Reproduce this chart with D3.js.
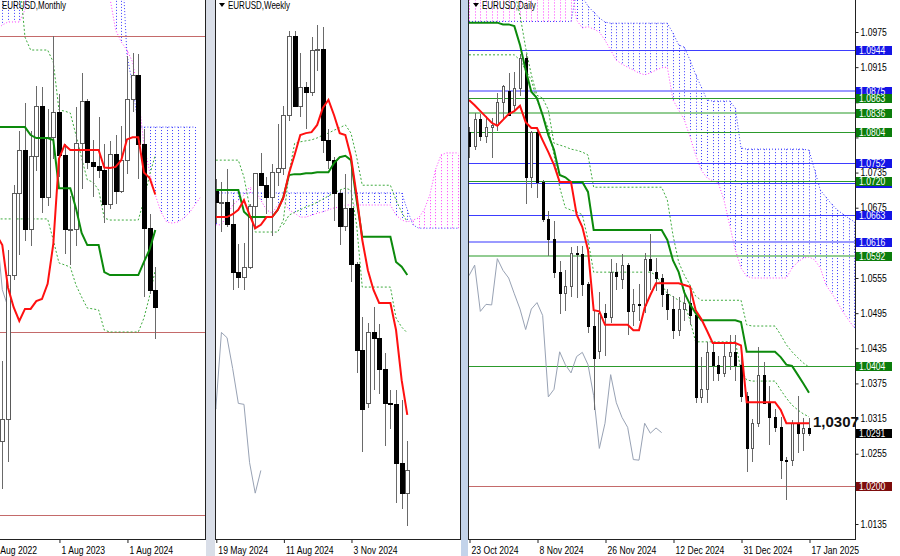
<!DOCTYPE html>
<html><head><meta charset="utf-8">
<script src="https://cdn.jsdelivr.net/npm/d3@7/dist/d3.min.js"></script>
<style>
html,body{margin:0;padding:0;background:#fff;}
svg{display:block;}
text{font-family:"Liberation Sans",Arial,sans-serif;}
</style></head><body>
<svg id="chart" width="900" height="556"></svg>
<script>
// ================= DATA =================
// ---- Monthly (first candle Oct 2022) ----
const monthlyOHLC = [
 [0.9802,1.0094,0.9632,0.9882],[0.9882,1.0497,0.9730,1.0406],[1.0406,1.0736,1.0393,1.0705],
 [1.0705,1.0929,1.0483,1.0863],[1.0863,1.1033,1.0533,1.0576],[1.0576,1.0930,1.0516,1.0839],
 [1.0839,1.1095,1.0788,1.1020],[1.1020,1.1092,1.0635,1.0690],[1.0690,1.1012,1.0663,1.0910],
 [1.0910,1.1276,1.0834,1.0998],[1.0998,1.1065,1.0766,1.0843],[1.0843,1.0882,1.0488,1.0573],
 [1.0573,1.0695,1.0448,1.0576],[1.0576,1.1017,1.0517,1.0886],[1.0886,1.1140,1.0724,1.1039],
 [1.1039,1.1046,1.0795,1.0818],[1.0818,1.0898,1.0695,1.0804],[1.0804,1.0981,1.0762,1.0790],
 [1.0790,1.0885,1.0601,1.0667],[1.0667,1.0895,1.0650,1.0848],[1.0848,1.0916,1.0668,1.0713],
 [1.0713,1.0948,1.0710,1.0826],[1.0826,1.1202,1.0778,1.1047],[1.1047,1.1214,1.1002,1.1135],
 [1.1135,1.1210,1.0761,1.0884],[1.0884,1.0937,1.0332,1.0577],[1.0577,1.0630,1.0343,1.0354],
 [1.0354,1.0437,1.0178,1.0291]];
// indicator arrays start one month before the first candle
const monthlyTenkan = [1.0553,1.0516,1.0362,1.0290,1.0240,1.0284,1.0284,1.0312,1.0320,1.0375,1.0520,1.0830,1.0880,
 1.0862,1.0862,1.0862,1.0862,1.0862,1.0862,1.0798,1.0796,1.0800,1.0825,1.0900,1.0908,1.0908,1.0780,1.0760,1.0700];
const monthlyKijun = [1.0945,1.0945,1.0945,1.0945,1.0945,1.0945,1.0916,1.0905,1.0905,1.0905,1.0898,1.0723,1.0723,1.0723,
 1.0650,1.0560,1.0516,1.0516,1.0516,1.0418,1.0407,1.0407,1.0407,1.0407,1.0407,1.0407,1.0455,1.0500,1.0571];
const monthlyDotUpper = [1.1495,1.1495,1.1495,1.1495,1.1495,1.1272,1.1225,1.1225,1.1225,1.1225,1.1181,1.1007,1.1003,1.0996,
 1.0916,1.0833,1.0753,1.0745,1.0716,1.0614,1.0607,1.0607,1.0607,1.0607,1.0607,1.0607,1.0680,1.0771,1.0843];
const monthlyDotLower = [1.0611,1.0611,1.0611,1.0611,1.0611,1.0611,1.0611,1.0611,1.0611,1.0611,1.0534,1.0451,1.0444,1.0436,
 1.0371,1.0327,1.0287,1.0284,1.0280,1.0207,1.0200,1.0200,1.0200,1.0200,1.0200,1.0200,1.0251,1.0331,1.0425];
const monthlySpanA = [1.16,1.16,1.16,1.16,1.16,1.16,1.16,1.16,1.16,1.16,1.16,1.16,1.16,1.16,1.16,1.16,1.16,1.16,1.16,1.16,1.16,1.16,1.16,
 1.1207,1.1098,1.0945,1.0945,1.0945,1.0945,1.0945,1.0945,1.0945,1.0945,1.0945,1.0945,1.0945];
const monthlySpanB = [1.1298,1.1316,1.1327,1.1327,1.1327,1.1371,1.16,1.16,1.16,1.16,1.16,1.16,1.16,1.16,1.16,1.16,1.16,1.16,1.16,1.16,
 1.1414,1.1298,1.1254,1.1225,1.1181,1.1062,1.0880,1.0782,1.0698,1.0636,1.0600,1.0596,1.0600,1.0614,1.0633,1.0662,1.0691];
const monthlyLevels = [1.1276,1.0200,0.9536];
const monthlyTickMonths = ["2022-08","2023-08","2024-08"];

// ---- Weekly (first candle week of 19 May 2024) ----
const weeklyOHLC = [
 [1.0870,1.0895,1.0805,1.0847],[1.0847,1.0889,1.0788,1.0848],[1.0848,1.0916,1.0797,1.0801],
 [1.0801,1.0852,1.0668,1.0703],[1.0703,1.0761,1.0671,1.0692],[1.0692,1.0762,1.0666,1.0713],
 [1.0713,1.0844,1.0710,1.0840],[1.0840,1.0906,1.0795,1.0907],[1.0907,1.0948,1.0882,1.0882],
 [1.0882,1.0899,1.0825,1.0857],[1.0857,1.0926,1.0778,1.0910],[1.0910,1.1008,1.0882,1.0918],
 [1.0918,1.1047,1.0905,1.1027],[1.1027,1.1201,1.1018,1.1192],[1.1192,1.1202,1.1046,1.1047],
 [1.1047,1.1155,1.1026,1.1085],[1.1085,1.1096,1.1001,1.1075],[1.1075,1.1189,1.1068,1.1163],
 [1.1163,1.1214,1.1120,1.1165],[1.1165,1.1209,1.0951,1.0975],[1.0975,1.0999,1.0918,1.0935],
 [1.0935,1.0941,1.0810,1.0866],[1.0866,1.0872,1.0761,1.0797],[1.0797,1.0905,1.0789,1.0834],
 [1.0834,1.0937,1.0683,1.0718],[1.0718,1.0723,1.0496,1.0541],[1.0541,1.0610,1.0332,1.0418],
 [1.0430,1.0596,1.0423,1.0577],[1.0577,1.0630,1.0460,1.0566],[1.0566,1.0594,1.0452,1.0502],
 [1.0502,1.0535,1.0343,1.0430],[1.0430,1.0458,1.0380,1.0428],[1.0428,1.0457,1.0226,1.0307],
 [1.0307,1.0437,1.0214,1.0244],[1.0244,1.0353,1.0178,1.0291]];
const weeklyTenkan = [1.0816,1.0816,1.0816,1.0822,1.0831,1.0851,1.0820,1.0793,1.0800,1.0816,1.0816,1.0831,1.0856,1.0907,
 1.0945,1.0986,1.0990,1.0992,1.1007,1.1042,1.1059,1.1027,1.0990,1.0986,1.0941,1.0862,1.0769,1.0706,1.0665,1.0638,1.0638,
 1.0638,1.0582,1.0478,1.0406];
const weeklyKijun = [1.0872,1.0872,1.0872,1.0872,1.0872,1.0827,1.0816,1.0816,1.0816,1.0816,1.0816,1.0831,1.0858,1.0903,
 1.0905,1.0905,1.0907,1.0907,1.0909,1.0909,1.0909,1.0928,1.0940,1.0943,1.0934,1.0851,1.0775,1.0775,1.0775,1.0775,1.0775,
 1.0775,1.0723,1.0713,1.0696];
const weeklyDotUpper = [1.0934,1.0934,1.0934,1.0934,1.0934,1.0899,1.0837,1.0785,1.0785,1.0785,1.0785,1.0785,1.0810,1.0907,
 1.0969,1.0972,1.0974,1.0976,1.0980,1.0986,1.0990,1.0996,1.1001,1.1007,1.0990,1.0941,1.0882,1.0882,1.0882,1.0882,1.0882,
 1.0882,1.0851,1.0826,1.0806];
const weeklyDotLower = [null,null,null,null,null,null,null,null,null,null,null,null,1.0800,1.0820,1.0826,1.0831,1.0837,
 1.0841,1.0847,1.0853,1.0860,1.0866,1.0872,1.0876,1.0872,1.0800,1.0671,1.0671,1.0671,1.0671,1.0671,1.0671,1.0607,1.0588,1.0576];
const weeklySpanA = [1.0866,1.0866,1.0866,1.0866,1.0866,1.0866,1.0866,1.0866,1.0866,1.0866,1.0866,1.0866,1.0866,1.0866,
 1.0866,1.0866,1.0866,1.0866,1.0866,1.0866,1.0866,1.0866,1.0866,1.0866,1.0866,1.0866,1.0866,1.0866,1.0866,1.0866,1.0866,
 1.0866,1.0866,1.0866,1.0831,1.0800,1.0793,1.0793,1.0793,1.0793,1.0793,1.0793,1.0793,1.0793];
const weeklySpanB = [1.0800,1.0800,1.0820,1.0841,1.0851,1.0862,1.0878,1.0872,1.0851,1.0831,1.0824,1.0841,1.0851,1.0831,
 1.0824,1.0816,1.0816,1.0820,1.0824,1.0827,1.0831,1.0835,1.0837,1.0841,1.0841,1.0841,1.0841,1.0841,1.0841,1.0841,1.0841,
 1.0841,1.0820,1.0810,1.0806,1.0810,1.0814,1.0831,1.0862,1.0914,1.0945,1.0949,1.0949,1.0949];
const weeklyTickDates = ["2024-05-19","2024-08-11","2024-11-03"];

// ---- Daily (first candle 23 Oct 2024) ----
const dailyDates = ["2024-10-23","2024-10-24","2024-10-25","2024-10-28","2024-10-29","2024-10-30","2024-10-31","2024-11-01",
 "2024-11-04","2024-11-05","2024-11-06","2024-11-07","2024-11-08","2024-11-11","2024-11-12","2024-11-13","2024-11-14",
 "2024-11-15","2024-11-18","2024-11-19","2024-11-20","2024-11-21","2024-11-22","2024-11-25","2024-11-26","2024-11-27",
 "2024-11-28","2024-11-29","2024-12-02","2024-12-03","2024-12-04","2024-12-05","2024-12-06","2024-12-09","2024-12-10",
 "2024-12-11","2024-12-12","2024-12-13","2024-12-16","2024-12-17","2024-12-18","2024-12-19","2024-12-20","2024-12-23",
 "2024-12-24","2024-12-26","2024-12-27","2024-12-30","2024-12-31","2025-01-02","2025-01-03","2025-01-06","2025-01-07",
 "2025-01-08","2025-01-09","2025-01-10","2025-01-13","2025-01-14","2025-01-15","2025-01-16","2025-01-17"];
const dailyOHLC = [
 [1.0805,1.0812,1.0761,1.0780],[1.0780,1.0836,1.0776,1.0827],[1.0827,1.0835,1.0791,1.0797],[1.0797,1.0831,1.0788,1.0813],
 [1.0813,1.0829,1.0761,1.0817],[1.0817,1.0870,1.0807,1.0856],[1.0856,1.0885,1.0827,1.0883],[1.0874,1.0905,1.0834,1.0834],
 [1.0850,1.0906,1.0844,1.0880],[1.0879,1.0937,1.0868,1.0931],[1.0931,1.0937,1.0683,1.0728],[1.0728,1.0806,1.0711,1.0804],
 [1.0804,1.0811,1.0693,1.0719],[1.0719,1.0723,1.0653,1.0655],[1.0655,1.0669,1.0595,1.0622],[1.0622,1.0653,1.0556,1.0565],
 [1.0565,1.0584,1.0496,1.0529],[1.0529,1.0568,1.0500,1.0541],[1.0541,1.0608,1.0524,1.0597],[1.0597,1.0609,1.0522,1.0596],
 [1.0596,1.0610,1.0526,1.0544],[1.0544,1.0548,1.0462,1.0473],[1.0473,1.0498,1.0332,1.0418],[1.0430,1.0531,1.0418,1.0496],
 [1.0496,1.0510,1.0423,1.0488],[1.0488,1.0588,1.0480,1.0566],[1.0566,1.0580,1.0537,1.0559],[1.0553,1.0596,1.0538,1.0577],
 [1.0577,1.0580,1.0460,1.0498],[1.0498,1.0537,1.0474,1.0510],[1.0510,1.0545,1.0483,1.0509],[1.0509,1.0597,1.0497,1.0588],
 [1.0588,1.0630,1.0536,1.0568],[1.0566,1.0590,1.0535,1.0555],[1.0555,1.0562,1.0508,1.0528],[1.0528,1.0536,1.0485,1.0502],
 [1.0502,1.0524,1.0452,1.0467],[1.0467,1.0523,1.0457,1.0502],[1.0502,1.0534,1.0483,1.0513],[1.0513,1.0535,1.0476,1.0491],
 [1.0491,1.0500,1.0343,1.0352],[1.0352,1.0420,1.0344,1.0365],[1.0365,1.0445,1.0343,1.0429],[1.0429,1.0446,1.0380,1.0407],
 [1.0407,1.0422,1.0381,1.0393],[1.0393,1.0445,1.0387,1.0421],[1.0421,1.0458,1.0400,1.0428],[1.0428,1.0457,1.0380,1.0407],
 [1.0407,1.0432,1.0345,1.0354],[1.0354,1.0361,1.0226,1.0264],[1.0264,1.0315,1.0243,1.0307],[1.0307,1.0437,1.0302,1.0390],
 [1.0390,1.0412,1.0341,1.0342],[1.0342,1.0370,1.0271,1.0317],[1.0317,1.0331,1.0293,1.0300],[1.0300,1.0317,1.0214,1.0245],
 [1.0245,1.0250,1.0178,1.0244],[1.0244,1.0312,1.0235,1.0307],[1.0307,1.0353,1.0258,1.0290],[1.0290,1.0316,1.0261,1.0299],
 [1.0299,1.0316,1.0287,1.0291]];
const dailyTenkan = [1.0859,1.0850,1.0840,1.0830,1.0820,1.0815,1.0825,1.0835,1.0840,1.0849,1.0821,1.0811,1.0811,1.0790,
 1.0770,1.0748,1.0719,1.0719,1.0719,1.0663,1.0642,1.0603,1.0500,1.0498,1.0475,1.0475,1.0475,1.0475,1.0475,1.0466,1.0466,
 1.0504,1.0526,1.0546,1.0546,1.0546,1.0546,1.0546,1.0543,1.0540,1.0500,1.0485,1.0465,1.0444,1.0444,1.0444,1.0444,1.0444,
 1.0440,1.0343,1.0343,1.0343,1.0343,1.0343,1.0343,1.0330,1.0307,1.0307,1.0307,1.0307,1.0307];
const dailyKijun = [1.0991,1.0991,1.0991,1.0991,1.0991,1.0991,1.0988,1.0988,1.0985,1.0953,1.0910,1.0873,1.0862,1.0833,
 1.0799,1.0774,1.0731,1.0727,1.0719,1.0719,1.0719,1.0702,1.0637,1.0637,1.0637,1.0637,1.0637,1.0637,1.0637,1.0637,1.0637,
 1.0637,1.0637,1.0637,1.0637,1.0620,1.0585,1.0565,1.0530,1.0510,1.0495,1.0483,1.0483,1.0483,1.0483,1.0483,1.0483,1.0483,
 1.0480,1.0429,1.0429,1.0429,1.0429,1.0429,1.0429,1.0420,1.0407,1.0405,1.0390,1.0375,1.0359];
const dailyDotUpper = [1.1045,1.1045,1.1045,1.1045,1.1045,1.1045,1.1045,1.1045,1.1045,1.1004,1.0948,1.0902,1.0867,1.0862,
 1.0842,1.0785,1.0782,1.0779,1.0775,1.0773,1.0770,1.0765,1.0710,1.0710,1.0710,1.0710,1.0710,1.0710,1.0710,1.0710,1.0710,
 1.0710,1.0710,1.0710,1.0710,1.0688,1.0628,1.0582,1.0560,1.0543,1.0524,1.0517,1.0517,1.0517,1.0517,1.0517,1.0517,1.0517,
 1.0517,1.0475,1.0473,1.0473,1.0473,1.0473,1.0473,1.0458,1.0441,1.0429,1.0419,1.0410,1.0403];
const dailyDotLower = [1.0936,1.0936,1.0936,1.0936,1.0936,1.0936,1.0936,1.0936,1.0936,1.0927,1.0910,1.0893,1.0859,1.0833,
 1.0811,1.0765,1.0710,1.0675,1.0671,1.0668,1.0663,1.0620,1.0565,1.0565,1.0565,1.0565,1.0565,1.0565,1.0565,1.0565,1.0565,
 1.0565,1.0565,1.0560,1.0543,1.0529,1.0523,1.0517,1.0512,1.0483,1.0446,1.0446,1.0446,1.0446,1.0446,1.0446,1.0446,1.0446,
 1.0398,1.0381,1.0379,1.0379,1.0379,1.0379,1.0379,1.0364,1.0350,1.0338,1.0330,1.0323,1.0318];
const dailySpanA = [1.0993,1.0993,1.0993,1.0993,1.0993,1.0993,1.0993,1.0993,1.0993,1.0993,1.0993,1.0993,1.0993,1.0993,
 1.0993,1.0993,1.0993,1.0993,1.0993,1.1045,1.1035,1.1019,1.1009,1.0999,1.0992,1.0990,1.0990,1.0990,1.0990,1.0990,1.0990,
 1.0990,1.0990,1.0990,1.0990,1.0990,1.0973,1.0953,1.0949,1.0927,1.0902,1.0881,1.0859,1.0857,1.0857,1.0857,1.0857,1.0845,
 1.0777,1.0775,1.0775,1.0775,1.0775,1.0775,1.0775,1.0775,1.0775,1.0775,1.0775,1.0775,1.0773,1.0739,1.0705,1.0693,1.0681,
 1.0671,1.0664,1.0657,1.0651];
const dailySpanB = [1.1060,1.1060,1.1060,1.1060,1.1060,1.1060,1.1060,1.1060,1.1060,1.1060,1.1060,1.1060,1.1060,1.1060,
 1.1060,1.1060,1.1060,1.1060,1.1060,1.0995,1.0982,1.0984,1.0980,1.0975,1.0961,1.0944,1.0927,1.0920,1.0915,1.0910,1.0905,
 1.0902,1.0905,1.0910,1.0914,1.0915,1.0859,1.0842,1.0825,1.0796,1.0765,1.0739,1.0726,1.0721,1.0717,1.0688,1.0645,1.0603,
 1.0572,1.0558,1.0555,1.0555,1.0555,1.0555,1.0555,1.0555,1.0555,1.0572,1.0582,1.0589,1.0591,1.0586,1.0572,1.0543,1.0529,
 1.0514,1.0497,1.0483,1.0470];
const dailyLevels     = [1.0944,1.0875,1.0863,1.0836,1.0804,1.0752,1.0717,1.0720,1.0663,1.0616,1.0592,1.0404,1.0200];
const dailyLevelKinds = ["blue","lightblue","green","lightgreen","green","blue","blue","green","blue","lightblue","lightgreen","green","red"];
const dailyPriceTicks = [1.0975,1.0915,1.0855,1.0795,1.0735,1.0675,1.0615,1.0555,1.0495,1.0435,1.0375,1.0315,1.0255,1.0195,1.0135];
const dailyTickDates  = ["2024-10-23","2024-11-08","2024-11-26","2024-12-12","2024-12-31","2025-01-17"];
const lastPrice = 1.0291;
const tenkanNote = "1,0307";

// ================= DRAWING =================
const BLUE="#3c3cff", MAG="#ff3cff";
const LEVEL_STYLE={
  blue:{c:"#3d3dff",w:1,box:"#1414e6"},
  lightblue:{c:"#9a9aff",w:2,box:"#1414e6"},
  green:{c:"#2c9a2c",w:1,box:"#0b7d0b"},
  lightgreen:{c:"#92cc92",w:2,box:"#0b7d0b"},
  red:{c:"#c46a6a",w:1,box:"#7d0c0c"}
};
const FONT="Liberation Sans, Arial, sans-serif";
const AXIS_Y=539;
const svg=d3.select("#chart");
const defs=svg.append("defs");
const fmtDate=d3.utcFormat("%-d %b %Y");
const parse=d3.utcParse("%Y-%m-%d");
// narrow the sans text to the width of the terminal's UI font
function squeeze(sel,k){
  sel.each(function(){
    const L=this.getComputedTextLength();
    if(L>0){this.setAttribute("textLength",(L*k).toFixed(1));this.setAttribute("lengthAdjust","spacingAndGlyphs");}
  });
}

svg.append("rect").attr("width",900).attr("height",556).attr("fill","#fff");
// separators between windows
svg.append("rect").attr("x",206).attr("y",0).attr("width",9).attr("height",556).attr("fill","#d9dee8");
svg.append("rect").attr("x",461).attr("y",0).attr("width",7).attr("height",556).attr("fill","#c3d3ea");

function drawPanel(P){
  const x=d3.scaleLinear().domain(P.xDomain).range(P.xRange);
  const y=d3.scaleLinear().domain(P.yDomain).range(P.yRange);
  const cid="clip-"+P.id;
  defs.append("clipPath").attr("id",cid).append("rect")
    .attr("x",P.left).attr("y",0).attr("width",P.right-P.left).attr("height",AXIS_Y);
  const g=svg.append("g").attr("clip-path",`url(#${cid})`);
  const sx=i=>Math.round(x(i))+0.5;
  const mk=start=>d3.line().defined(d=>d!=null).x((d,j)=>x(j+start)).y(d=>y(d));

  // cloud hatch (one dotted vertical per bar)
  P.spanA.forEach((a,j)=>{
    const b=P.spanB[j], i=j+P.spanStart;
    g.append("line").attr("x1",sx(i)).attr("x2",sx(i)).attr("y1",y(a)).attr("y2",y(b))
      .attr("stroke",a>=b?BLUE:MAG).attr("stroke-width",1).attr("stroke-dasharray","1,2");
  });
  g.append("path").attr("d",mk(P.spanStart)(P.spanA)).attr("fill","none").attr("stroke",BLUE).attr("stroke-dasharray","1,2");
  g.append("path").attr("d",mk(P.spanStart)(P.spanB)).attr("fill","none").attr("stroke",MAG).attr("stroke-dasharray","1,2");

  // horizontal levels
  (P.levels||[]).forEach((v,k)=>{
    const st=LEVEL_STYLE[P.levelKinds[k]];
    const yy=Math.round(y(v))+(st.w%2?0.5:0);
    g.append("line").attr("x1",P.left).attr("x2",P.right).attr("y1",yy).attr("y2",yy)
      .attr("stroke",st.c).attr("stroke-width",st.w).attr("shape-rendering","crispEdges");
  });

  // chikou span: closes shifted back 26 bars
  const ch=P.ohlc.map((d,i)=>[i-26,d[3]]);
  g.append("path").attr("d",d3.line().x(d=>x(d[0])).y(d=>y(d[1]))(ch))
    .attr("fill","none").attr("stroke","#98a2b4").attr("stroke-width",1);

  // dotted green lines
  [P.dotUpper,P.dotLower].forEach(arr=>{
    g.append("path").attr("d",mk(P.lineStart)(arr)).attr("fill","none")
      .attr("stroke","#3daa3d").attr("stroke-width",1).attr("stroke-dasharray","2,2");
  });

  // candles
  const bw=P.bodyW, h=(bw-1)/2;
  P.ohlc.forEach((d,i)=>{
    const [o,hi,lo,c]=d; const cx=Math.round(x(i));
    g.append("line").attr("x1",cx+0.5).attr("x2",cx+0.5).attr("y1",Math.round(y(hi))).attr("y2",Math.round(y(lo))+1)
      .attr("stroke","#6a6a6a");
    const t=Math.round(y(Math.max(o,c))), b=Math.round(y(Math.min(o,c)));
    if(c>=o){
      g.append("rect").attr("x",cx-h+0.5).attr("y",t+0.5).attr("width",bw-1).attr("height",Math.max(1,b-t))
        .attr("fill","#fff").attr("stroke","#5a5a5a");
    } else {
      g.append("rect").attr("x",cx-h).attr("y",t).attr("width",bw).attr("height",Math.max(2,b-t+1)).attr("fill","#000");
    }
  });

  // Kijun & Tenkan
  g.append("path").attr("d",mk(P.lineStart)(P.kijun)).attr("fill","none").attr("stroke","#0c8a0c").attr("stroke-width",2);
  g.append("path").attr("d",mk(P.lineStart)(P.tenkan)).attr("fill","none").attr("stroke","#ff1010").attr("stroke-width",2);

  // frame
  svg.append("line").attr("x1",P.left).attr("x2",P.right).attr("y1",AXIS_Y+0.5).attr("y2",AXIS_Y+0.5).attr("stroke","#222");
  if(P.leftBorder) svg.append("line").attr("x1",P.left+0.5).attr("x2",P.left+0.5).attr("y1",0).attr("y2",AXIS_Y).attr("stroke","#222");
  svg.append("line").attr("x1",P.right+0.5).attr("x2",P.right+0.5).attr("y1",0).attr("y2",AXIS_Y+1).attr("stroke","#222");

  // time axis
  const ax=d3.axisBottom(x).tickValues(P.tickIdx).tickFormat((d,k)=>P.tickLabels[k]).tickSize(4).tickSizeOuter(0);
  const ag=svg.append("g").attr("transform",`translate(0.5,${AXIS_Y})`).call(ax);
  ag.select(".domain").remove();
  ag.selectAll(".tick line").attr("stroke","#222");
  const tt=ag.selectAll(".tick text").attr("text-anchor","start").attr("dx","0.15em").attr("y",8)
    .attr("font-size","10.5px").attr("fill","#000").attr("font-family",FONT);
  squeeze(tt,0.82);
  // title
  const tg=svg.append("g");
  if(P.marker){
    tg.append("path").attr("d",d3.line()([[P.titleX-9,3],[P.titleX-3,3],[P.titleX-6,7]])+"Z").attr("fill","#000");
  }
  const ttl=tg.append("text").attr("x",P.titleX).attr("y",9).attr("font-size","10px").attr("fill","#000")
    .attr("font-family",FONT).text(P.title);
  squeeze(ttl,0.8);
  return {x,y};
}

// Monthly
const mTickIdx=monthlyTickMonths.map(s=>{const [yy,mm]=s.split("-").map(Number);return (yy-2022)*12+(mm-1)-9;});
drawPanel({id:"m",left:0,right:205,leftBorder:false,xDomain:[0,27],xRange:[2.3,155.3],
  yDomain:[1.1276,1.0200],yRange:[36,332],ohlc:monthlyOHLC,lineStart:-1,
  tenkan:monthlyTenkan,kijun:monthlyKijun,dotUpper:monthlyDotUpper,dotLower:monthlyDotLower,
  spanA:monthlySpanA,spanB:monthlySpanB,spanStart:-1,levels:monthlyLevels,levelKinds:["red","red","red"],
  bodyW:5,tickIdx:mTickIdx,tickLabels:monthlyTickMonths.map(s=>fmtDate(parse(s+"-01"))),
  title:"EURUSD,Monthly",titleX:2,marker:false});

// Weekly
const wStart=parse("2024-05-19");
const wTickIdx=weeklyTickDates.map(s=>Math.round((parse(s)-wStart)/(7*864e5)));
drawPanel({id:"w",left:215,right:460,leftBorder:true,xDomain:[0,34],xRange:[215.8,407.3],
  yDomain:[1.1214,1.0178],yRange:[25,525],ohlc:weeklyOHLC,lineStart:0,
  tenkan:weeklyTenkan,kijun:weeklyKijun,dotUpper:weeklyDotUpper,dotLower:weeklyDotLower,
  spanA:weeklySpanA,spanB:weeklySpanB,spanStart:0,levels:[],levelKinds:[],
  bodyW:5,tickIdx:wTickIdx,tickLabels:weeklyTickDates.map(s=>fmtDate(parse(s))),
  title:"EURUSD,Weekly",titleX:228,marker:true});

// Daily
const dTickIdx=dailyTickDates.map(s=>dailyDates.indexOf(s));
const D=drawPanel({id:"d",left:468,right:855,leftBorder:true,xDomain:[0,60],xRange:[469,809],
  yDomain:[1.0975,1.0135],yRange:[32,524],ohlc:dailyOHLC,lineStart:0,
  tenkan:dailyTenkan,kijun:dailyKijun,dotUpper:dailyDotUpper,dotLower:dailyDotLower,
  spanA:dailySpanA,spanB:dailySpanB,spanStart:0,levels:dailyLevels,levelKinds:dailyLevelKinds,
  bodyW:3,tickIdx:dTickIdx,tickLabels:dailyTickDates.map(s=>fmtDate(parse(s))),
  title:"EURUSD,Daily",titleX:482,marker:true});

// price axis (daily); a tick label sitting under a level box is not shown
const boxY=dailyLevels.map(v=>D.y(v));
const pa=d3.axisRight(D.y).tickValues(dailyPriceTicks)
  .tickFormat(v=>boxY.some(b=>Math.abs(b-D.y(v))<6)?"":d3.format(".4f")(v)).tickSize(3).tickPadding(2);
const pg=svg.append("g").attr("transform","translate(855.5,0)").call(pa);
pg.select(".domain").remove();
pg.selectAll(".tick line").attr("stroke","#222");
squeeze(pg.selectAll(".tick text").attr("font-size","10px").attr("fill","#000").attr("font-family",FONT),0.86);

// level price boxes (a box fully covered by the next one keeps no text)
function priceBox(v,fill,showText){
  const yy=Math.round(D.y(v));
  svg.append("rect").attr("x",856).attr("y",yy-4).attr("width",36).attr("height",9).attr("fill",fill);
  if(showText){
    const t=svg.append("text").attr("x",859).attr("y",yy+4).attr("font-size","10px").attr("fill","#fff")
      .attr("font-family",FONT).text(d3.format(".4f")(v));
    squeeze(t,0.86);
  }
}
dailyLevels.forEach((v,k)=>{
  const next=dailyLevels[k+1];
  const covered=next!==undefined && Math.abs(D.y(next)-D.y(v))<3;
  priceBox(v,LEVEL_STYLE[dailyLevelKinds[k]].box,!covered);
});
priceBox(lastPrice,"#000",true);

// Tenkan value note
svg.append("text").attr("x",813).attr("y",D.y(dailyTenkan[dailyTenkan.length-1])+4)
  .attr("font-family","Liberation Serif, Times New Roman, serif").attr("font-weight","bold")
  .attr("font-size","15px").attr("fill","#111").text(tenkanNote);
</script></body></html>
